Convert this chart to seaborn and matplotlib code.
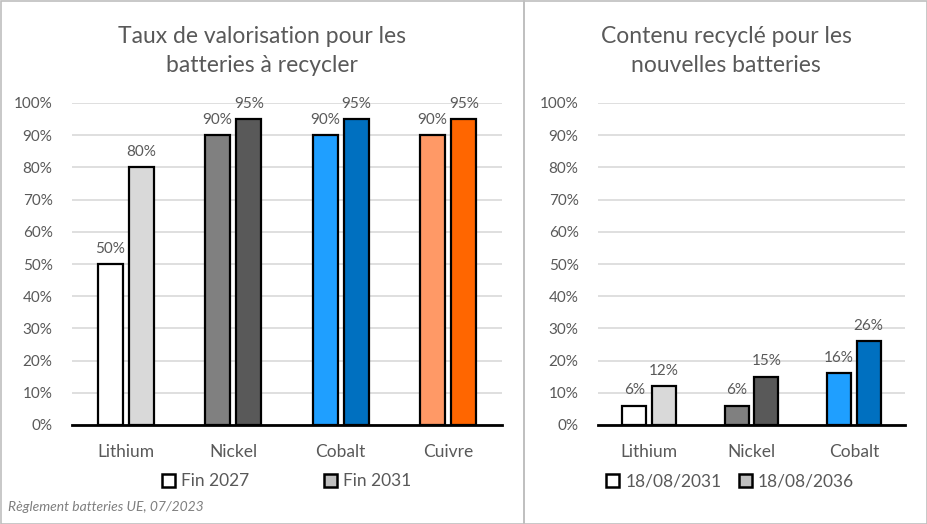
import matplotlib
matplotlib.use("Agg")
import matplotlib.pyplot as plt
import matplotlib.patches as mpatches
from matplotlib.ticker import PercentFormatter
import pandas as pd
import seaborn as sns

# data
left_title = "Taux de valorisation pour les\nbatteries à recycler"
left_categories = ["Lithium", "Nickel", "Cobalt", "Cuivre"]
left_series = ["Fin 2027", "Fin 2031"]
left_2027 = [50, 90, 90, 90]
left_2031 = [80, 95, 95, 95]

right_title = "Contenu recyclé pour les\nnouvelles batteries"
right_categories = ["Lithium", "Nickel", "Cobalt"]
right_series = ["18/08/2031", "18/08/2036"]
right_2031 = [6, 6, 16]
right_2036 = [12, 15, 26]

source = "Règlement batteries UE, 07/2023"

# bar colours per category: (first series, second series)
bar_colors = {
    "Lithium": ("#FFFFFF", "#D9D9D9"),
    "Nickel": ("#808080", "#595959"),
    "Cobalt": ("#1F9FFF", "#0070C0"),
    "Cuivre": ("#FF9966", "#FF6600"),
}
legend_colors = ["#FFFFFF", "#BFBFBF"]
text_color = "#595959"

sns.set_theme(style="white")
plt.rcParams["font.family"] = ["Lato", "DejaVu Sans"]


def makeFrame(categories, series, first, second):
    # long form table for seaborn
    rows = []
    for cat, v in zip(categories, first):
        rows.append({"cat": cat, "serie": series[0], "val": v})
    for cat, v in zip(categories, second):
        rows.append({"cat": cat, "serie": series[1], "val": v})
    return pd.DataFrame(rows)


def drawPanel(ax, title, categories, series, first, second, title_x, leg_x, leg_gap):
    df = makeFrame(categories, series, first, second)
    sns.barplot(data=df, x="cat", y="val", hue="serie", order=categories,
                hue_order=series, width=0.58, gap=0.2, ax=ax, legend=False,
                edgecolor="black", linewidth=1.6, palette=["white", "grey"])

    # recolour bars by category and series
    bars = sorted(ax.patches, key=lambda p: p.get_x())
    for i, p in enumerate(bars):
        cat = categories[i // 2]
        p.set_facecolor(bar_colors[cat][i % 2])
        p.set_zorder(3)

    for cont in ax.containers:
        ax.bar_label(cont, fmt="%g%%", padding=6, color=text_color, fontsize=11)

    ax.set_ylim(0, 100)
    ax.set_xlim(-0.5, len(categories) - 0.5)
    ax.set_yticks(range(0, 101, 10))
    ax.yaxis.set_major_formatter(PercentFormatter(decimals=0))
    ax.grid(axis="y", color="#D9D9D9", linewidth=1.2, zorder=0)
    ax.set_axisbelow(True)
    for s in ["top", "right", "left"]:
        ax.spines[s].set_visible(False)
    ax.spines["bottom"].set_color("black")
    ax.spines["bottom"].set_linewidth(2)
    ax.spines["bottom"].set_zorder(4)
    ax.tick_params(axis="y", length=0, pad=14, labelsize=11, labelcolor=text_color)
    ax.tick_params(axis="x", length=0, pad=14, labelsize=12.5, labelcolor=text_color)
    ax.set_xlabel("")
    ax.set_ylabel("")
    ax.set_title(title, fontsize=16.5, color=text_color, pad=22,
                 linespacing=1.5, x=title_x)

    handles = [mpatches.Patch(facecolor=c, edgecolor="black", linewidth=1.8)
               for c in legend_colors]
    ax.legend(handles, series, loc="center", bbox_to_anchor=(leg_x, -0.175),
              ncol=2, frameon=False, fontsize=12.5, labelcolor=text_color,
              handlelength=0.75, handleheight=0.75, handletextpad=0.35,
              columnspacing=leg_gap)


fig = plt.figure(figsize=(9.28, 5.24), dpi=100)
ax1 = fig.add_axes([72 / 928, 99 / 524, 430 / 928, 322 / 524])
ax2 = fig.add_axes([598 / 928, 99 / 524, 307 / 928, 322 / 524])

drawPanel(ax1, left_title, left_categories, left_series, left_2027, left_2031,
          (262 - 72) / 430, 0.5, 4.3)
drawPanel(ax2, right_title, right_categories, right_series, right_2031, right_2036,
          (726 - 598) / 307, 0.43, 1.0)

# panel frames
fig.patches.append(mpatches.Rectangle((0.5 / 928, 0.5 / 524), 523.5 / 928, 523 / 524,
                                      transform=fig.transFigure, fill=False,
                                      edgecolor="#BFBFBF", linewidth=1.2))
fig.patches.append(mpatches.Rectangle((524 / 928, 0.5 / 524), 403 / 928, 523 / 524,
                                      transform=fig.transFigure, fill=False,
                                      edgecolor="#BFBFBF", linewidth=1.2))

fig.text(8 / 928, 1 - 507 / 524, source, fontsize=10, style="italic",
         color="#7F7F7F", va="center", ha="left")

fig.savefig("out.png", dpi=100)
